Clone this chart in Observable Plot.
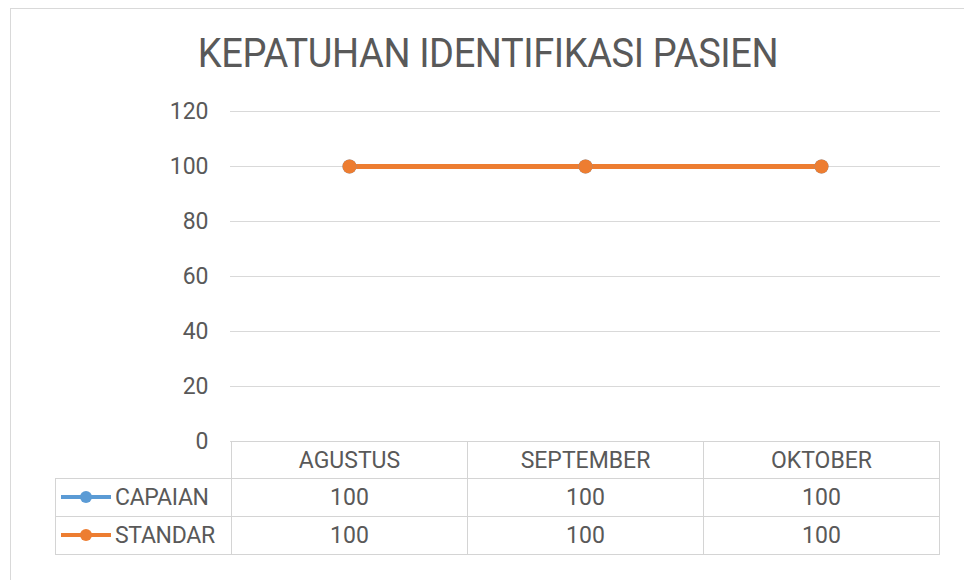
<!DOCTYPE html>
<html>
<head>
<meta charset="utf-8">
<script src="https://cdn.jsdelivr.net/npm/d3@7"></script>
<script src="https://cdn.jsdelivr.net/npm/@observablehq/plot@0.6"></script>
<style>
  html, body { margin: 0; padding: 0; background: #fff; }
  #wrap { position: relative; width: 964px; height: 580px; overflow: hidden; font-family: Roboto, "Noto Sans", sans-serif; color: #595959; }
  #frame { position: absolute; left: 10px; top: 8px; width: 970px; height: 600px; border: 1px solid #d9d9d9; box-sizing: border-box; }
  #title { position: absolute; left: 0; width: 976px; top: 30px; line-height: 46px; text-align: center; font-size: 38px; color: #595959; letter-spacing: -0.4px; transform: scaleY(1.08); }
  #plot { position: absolute; left: 0; top: 0; }
  table.dt { position: absolute; border-collapse: collapse; table-layout: fixed; font-size: 23px; color: #595959; }
  table.dt td { border: 1px solid #d4d4d4; padding: 0; text-align: center; box-sizing: border-box; overflow: hidden; }
  table.dt td.corner { border-top: none; border-left: none; }
  table.dt td.lab { text-align: left; white-space: nowrap; letter-spacing: -0.3px; }
  .sw { display: inline-block; vertical-align: middle; margin: -3px 3px 0 4px; }
</style>
</head>
<body>
<div id="wrap">
  <div id="frame"></div>
  <div id="plot"></div>
  <div id="title">KEPATUHAN IDENTIFIKASI PASIEN</div>
</div>
<script>
const months = ["AGUSTUS", "SEPTEMBER", "OKTOBER"];
const capaian = [100, 100, 100];
const standar = [100, 100, 100];
const yTicks = [0, 20, 40, 60, 80, 100, 120];
const seriesNames = ["CAPAIAN", "STANDAR"];
const seriesColors = ["#5b9bd5", "#ed7d31"];

const data = [
  ...months.map((m, i) => ({month: m, value: capaian[i], series: seriesNames[0]})),
  ...months.map((m, i) => ({month: m, value: standar[i], series: seriesNames[1]}))
];

const W = 964, H = 580;
const chart = Plot.plot({
  width: W,
  height: H,
  marginLeft: 230,
  marginRight: 24,
  marginTop: 111,
  marginBottom: 139,
  style: {fontFamily: "Roboto, 'Noto Sans', sans-serif", fontSize: "23px", color: "#595959", background: "transparent"},
  x: {type: "band", domain: months, padding: 0, axis: null},
  y: {domain: [0, 120], ticks: yTicks, label: null},
  color: {domain: seriesNames, range: seriesColors},
  marks: [
    Plot.gridY(yTicks, {stroke: "#d9d9d9", strokeOpacity: 1, strokeWidth: 1}),
    Plot.axisY(yTicks, {tickSize: 0, tickPadding: 22, fontSize: 23, fill: "#595959", label: null}),
    Plot.line(data, {x: "month", y: "value", z: "series", stroke: "series", strokeWidth: 5}),
    Plot.dot(data, {x: "month", y: "value", fill: "series", r: 7, stroke: "none"})
  ]
});
document.getElementById("plot").appendChild(chart);

// data table built from the x scale
const xs = chart.scale("x");
const ys = chart.scale("y");
const left0 = 55;
const firstStart = xs.apply(months[0]);
const tableLeftCol = firstStart - left0;
const bw = xs.bandwidth;
const top0 = ys.apply(0);
const totalW = tableLeftCol + bw * months.length;

function swatch(color) {
  return `<svg class="sw" width="52" height="14"><line x1="1" y1="7" x2="51" y2="7" stroke="${color}" stroke-width="4"/><circle cx="26" cy="7" r="6" fill="${color}"/></svg>`;
}
let html = `<table class="dt" style="left:${left0}px;top:${top0}px;width:${totalW}px">`;
html += `<colgroup><col style="width:${tableLeftCol}px">` + months.map(() => `<col style="width:${bw}px">`).join("") + `</colgroup>`;
html += `<tr style="height:37px"><td class="corner"></td>` +
  months.map(m => `<td>${m}</td>`).join("") + `</tr>`;
[capaian, standar].forEach((vals, k) => {
  html += `<tr style="height:38px"><td class="lab">${swatch(seriesColors[k])}${seriesNames[k]}</td>` +
    vals.map(v => `<td>${v}</td>`).join("") + `</tr>`;
});
html += `</table>`;
document.getElementById("wrap").insertAdjacentHTML("beforeend", html);
</script>
</body>
</html>
